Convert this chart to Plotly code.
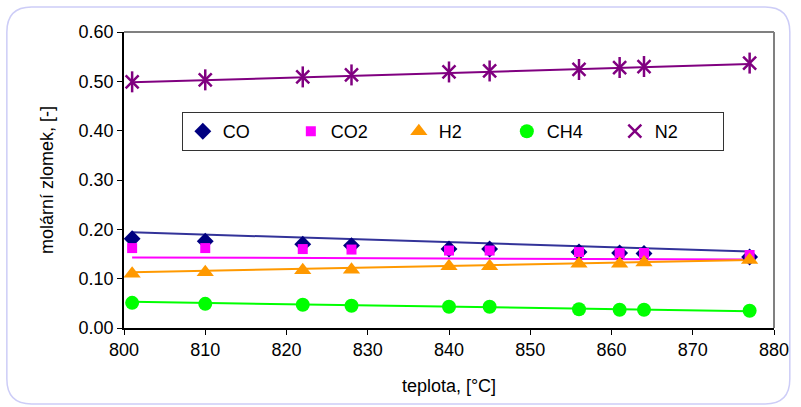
import plotly.graph_objects as go

# ---- data ----
teplota = [801, 810, 822, 828, 840, 845, 856, 861, 864, 877]
co  = [0.181, 0.176, 0.170, 0.167, 0.160, 0.160, 0.154, 0.152, 0.151, 0.144]
co2 = [0.162, 0.162, 0.160, 0.159, 0.157, 0.157, 0.154, 0.152, 0.152, 0.148]
h2  = [0.110, 0.113, 0.117, 0.118, 0.125, 0.125, 0.130, 0.130, 0.133, 0.138]
ch4 = [0.051, 0.049, 0.047, 0.045, 0.043, 0.043, 0.038, 0.037, 0.037, 0.035]
n2  = [0.499, 0.503, 0.509, 0.513, 0.519, 0.521, 0.524, 0.528, 0.530, 0.537]

# trend line end points
trend_x   = [801, 877]
trend_co  = [0.194, 0.155]
trend_co2 = [0.143, 0.139]
trend_h2  = [0.113, 0.138]
trend_ch4 = [0.053, 0.034]
trend_n2  = [0.498, 0.535]

x_ticks = [800, 810, 820, 830, 840, 850, 860, 870, 880]
y_ticks = [0.0, 0.1, 0.2, 0.3, 0.4, 0.5, 0.6]

FONT = "Arial, Liberation Sans, sans-serif"
FS = 18
W, H = 801, 407
L, R, T, B = 123.5, 20, 32, 79
pw, ph = W - L - R, H - T - B

def px(x):
    return (x - L) / pw

def py(y):
    return (H - B - y) / ph

fig = go.Figure()

# trend lines
for xs, ys, col in [
    (trend_x, trend_n2, "#800080"),
    (trend_x, trend_co, "#333399"),
    (trend_x, trend_co2, "#ff00ff"),
    (trend_x, trend_h2, "#ff9900"),
    (trend_x, trend_ch4, "#00ff00"),
]:
    fig.add_trace(go.Scatter(x=xs, y=ys, mode="lines", line=dict(color=col, width=2),
                             showlegend=False, hoverinfo="skip"))

fig.add_trace(go.Scatter(x=teplota, y=co, mode="markers", name="CO",
                         marker=dict(symbol="diamond", size=13, color="#000080")))
fig.add_trace(go.Scatter(x=teplota, y=co2, mode="markers", name="CO2",
                         marker=dict(symbol="square", size=10, color="#ff00ff")))
fig.add_trace(go.Scatter(x=teplota, y=h2, mode="markers", name="H2",
                         marker=dict(symbol="triangle-up", size=15, color="#ff9900")))
fig.add_trace(go.Scatter(x=teplota, y=ch4, mode="markers", name="CH4",
                         marker=dict(symbol="circle", size=14, color="#00ff00")))
fig.add_trace(go.Scatter(x=teplota, y=n2, mode="markers", name="N2", showlegend=False,
                         marker=dict(symbol="line-ns-open", size=15, color="#800080",
                                     line=dict(width=2.5))))
fig.add_trace(go.Scatter(x=teplota, y=n2, mode="markers", name="N2",
                         marker=dict(symbol="x-thin-open", size=13, color="#800080",
                                     line=dict(width=2.5))))

# outer rounded frame
x0, x1, y0, y1, r = px(5), px(797), py(7), py(404), 25
rx, ry = r / pw, r / ph
path = (f"M {x0+rx},{y0} L {x1-rx},{y0} Q {x1},{y0} {x1},{y0-ry} "
        f"L {x1},{y1+ry} Q {x1},{y1} {x1-rx},{y1} "
        f"L {x0+rx},{y1} Q {x0},{y1} {x0},{y1+ry} "
        f"L {x0},{y0-ry} Q {x0},{y0} {x0+rx},{y0} Z")

fig.update_layout(
    width=W, height=H,
    margin=dict(l=L, r=R, t=T, b=B),
    paper_bgcolor="white", plot_bgcolor="white",
    font=dict(family=FONT, size=FS, color="black"),
    showlegend=True,
    legend=dict(orientation="h", x=px(182), y=py(112), xanchor="left", yanchor="top",
                bgcolor="white", bordercolor="#333333", borderwidth=1,
                font=dict(family=FONT, size=FS, color="black"),
                entrywidth=63, entrywidthmode="pixels", itemsizing="trace",
                traceorder="normal"),
    shapes=[
        dict(type="path", xref="paper", yref="paper", path=path,
             line=dict(color="#cdcdf7", width=1.5), layer="below"),
        dict(type="line", xref="paper", yref="paper", x0=0, x1=1, y0=1, y1=1,
             line=dict(color="#808080", width=2)),
        dict(type="line", xref="paper", yref="paper", x0=1, x1=1, y0=0, y1=1,
             line=dict(color="#808080", width=2)),
    ],
)

fig.update_xaxes(range=[800, 880], tickvals=x_ticks, ticks="outside", ticklen=5,
                 tickcolor="black", showline=True, linecolor="black", linewidth=1.5,
                 showgrid=False, zeroline=False,
                 title=dict(text="teplota, [°C]", standoff=20,
                            font=dict(family=FONT, size=FS)))
fig.update_yaxes(range=[0, 0.6], tickvals=y_ticks, tickformat=".2f", ticks="outside",
                 ticklen=5, tickcolor="black", showline=True, linecolor="black",
                 linewidth=1.5, showgrid=False, zeroline=False,
                 title=dict(text="molární zlomek, [-]", standoff=20,
                            font=dict(family=FONT, size=FS)))

fig.write_html("out.html", config={"displayModeBar": False},
               post_script="document.body.style.margin='0';document.body.style.overflow='hidden';")
